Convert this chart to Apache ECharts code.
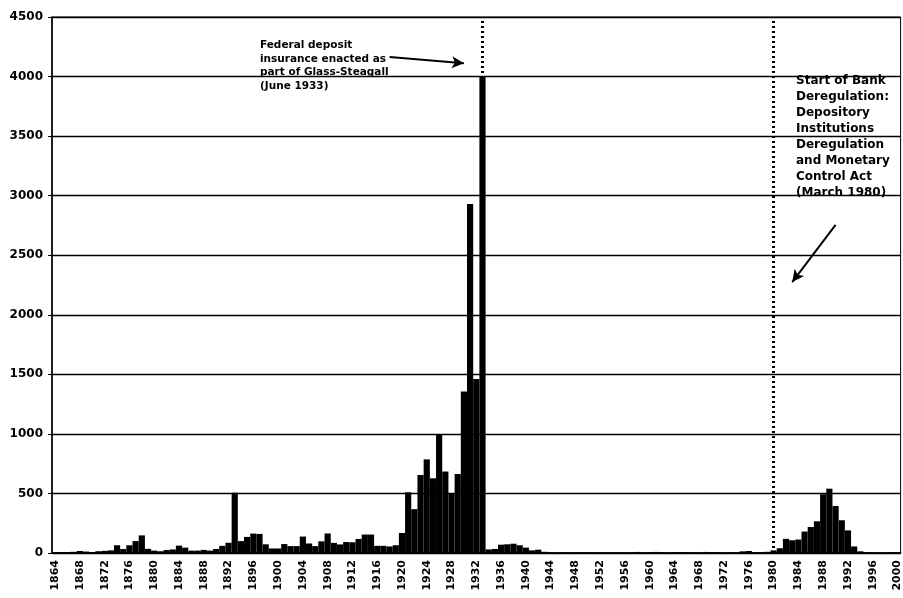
<!DOCTYPE html>
<html>
<head>
<meta charset="utf-8">
<script src="https://cdn.jsdelivr.net/npm/echarts@6/dist/echarts.min.js"></script>
<style>
    html, body { margin: 0; padding: 0; background: #fff; }
    #chart { width: 903px; height: 598px; }
</style>
</head>
<body>
<div id="chart"></div>
<script>
// years 1864 - 2000
var years = [];
for (var y = 1864; y <= 2000; y++) {
    years.push(String(y));
}

// bank failures per year
var failures1864 = [8, 8, 8, 10, 17, 12, 8, 15, 18, 22,
                    65, 33, 65, 100, 148, 35, 20, 15, 25, 30,
                    62, 45, 20, 20, 26, 20, 34, 60, 86, 506];
var failures1894 = [100, 135, 163, 160, 73, 38, 38, 75, 58, 58,
                    138, 80, 58, 98, 164, 85, 72, 92, 90, 118,
                    155, 155, 60, 60, 55, 65, 168, 510, 368, 655];
var failures1924 = [786, 627, 996, 684, 500, 663, 1355, 2930, 1460, 4004,
                    30, 34, 70, 73, 78, 65, 45, 22, 28, 10,
                    4, 2, 5, 4, 4, 5, 5, 4, 3, 4];
var failures1954 = [4, 5, 3, 3, 9, 3, 6, 9, 5, 2,
                    7, 7, 8, 4, 3, 9, 7, 6, 1, 6,
                    4, 14, 17, 6, 7, 10, 22, 40, 119, 107];
var failures1984 = [113, 180, 218, 266, 493, 540, 395, 275, 190, 55,
                    14, 6, 6, 3, 3, 7, 7];
var failures = failures1864.concat(failures1894, failures1924, failures1954, failures1984);

var yTicks = [0, 500, 1000, 1500, 2000, 2500, 3000, 3500, 4000, 4500];

var eventYears = ['1933', '1980'];

var note1933 = 'Federal deposit\ninsurance enacted as\npart of Glass-Steagall\n(June 1933)';
var note1980 = 'Start of Bank\nDeregulation:\nDepository\nInstitutions\nDeregulation\nand Monetary\nControl Act\n(March 1980)';

var chart = echarts.init(document.getElementById('chart'));

var option = {
    animation: false,
    grid: {
        left: 52,
        right: 1,
        top: 17,
        bottom: 45,
        show: true,
        borderColor: '#000',
        borderWidth: 1
    },
    xAxis: {
        type: 'category',
        data: years,
        boundaryGap: true,
        axisLine: { lineStyle: { color: '#000', width: 1.5 } },
        axisTick: { interval: 0, length: 4, lineStyle: { color: '#000' } },
        axisLabel: {
            interval: 3,
            rotate: 90,
            margin: 7,
            color: '#000',
            fontFamily: 'DejaVu Sans',
            fontWeight: 'bold',
            fontSize: 11
        }
    },
    yAxis: {
        type: 'value',
        min: yTicks[0],
        max: yTicks[yTicks.length - 1],
        interval: 500,
        axisLine: { show: true, lineStyle: { color: '#000', width: 1.5 } },
        axisTick: { show: true, length: 4, lineStyle: { color: '#000' } },
        axisLabel: {
            margin: 9,
            color: '#000',
            fontFamily: 'DejaVu Sans',
            fontWeight: 'bold',
            fontSize: 12,
            formatter: function (v) { return String(v); }
        },
        splitLine: { lineStyle: { color: '#000', width: 1.3 } }
    },
    series: [{
        type: 'bar',
        data: failures,
        barCategoryGap: '0%',
        itemStyle: { color: '#000' },
        markLine: {
            silent: true,
            symbol: ['none', 'none'],
            label: { show: false },
            lineStyle: { color: '#000', type: [2, 3], width: 3 },
            data: [
                { xAxis: eventYears[0] },
                { xAxis: eventYears[1] },
                [
                    { coord: ['1918', 4165], symbol: 'none' },
                    { coord: ['1930', 4112], symbol: 'arrow', symbolSize: [9, 12],
                      lineStyle: { type: 'solid', width: 2 } }
                ],
                [
                    { coord: ['1990', 2754], symbol: 'none' },
                    { coord: ['1983', 2275], symbol: 'arrow', symbolSize: [9, 12],
                      lineStyle: { type: 'solid', width: 2 } }
                ]
            ]
        }
    }],
    graphic: [
        {
            type: 'text',
            left: 260,
            top: 39,
            style: {
                text: note1933,
                fill: '#000',
                fontFamily: 'DejaVu Sans',
                fontWeight: 'bold',
                fontSize: 10.5,
                lineHeight: 13.5
            }
        },
        {
            type: 'text',
            left: 796,
            top: 73,
            style: {
                text: note1980,
                fill: '#000',
                backgroundColor: '#fff',
                fontFamily: 'DejaVu Sans',
                fontWeight: 'bold',
                fontSize: 12,
                lineHeight: 16
            }
        }
    ]
};

chart.setOption(option);
</script>
</body>
</html>
